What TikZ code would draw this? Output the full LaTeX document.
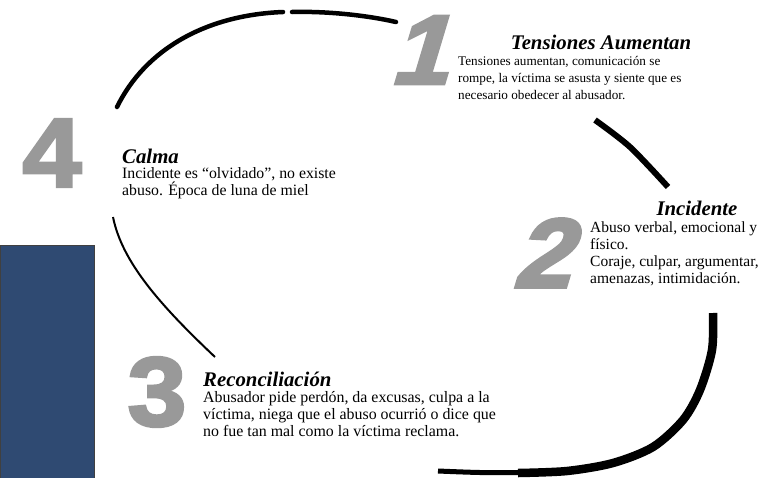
\documentclass[tikz,border=0pt]{standalone}
\usepackage{fontspec}
\setmainfont{Liberation Serif}
\newfontfamily\numfont{Liberation Sans Bold}[FakeBold=3,FakeStretch=1.08]
\newfontfamily\numslantfont{Liberation Sans Bold}[FakeBold=3.5,FakeStretch=1.05,FakeSlant=0.3]
\definecolor{numgray}{HTML}{999999}
\definecolor{panelblue}{HTML}{2F4A72}
\newcommand\bignumup{\numfont\fontsize{98}{98}\selectfont}
\newcommand\bignumit{\numslantfont\fontsize{98}{98}\selectfont}
\tikzset{
  stagetitle/.style={font=\fontsize{20.8}{24}\selectfont\bfseries\itshape, inner sep=0pt},
  stagetext/.style={font=\fontsize{#1}{17}\selectfont, align=left, inner sep=0pt,
    anchor=north west, execute at begin node=\strut},
  stagetext/.default=15.5,
  bignum/.style={text=numgray, inner sep=0pt, font=\bignumup},
  cyclearc/.style={line width=4.5pt, line cap=round},
}

\begin{document}
\begin{tikzpicture}[x=1pt,y=-1pt]
      \useasboundingbox (0,0) rectangle (784,477);
      \fill[panelblue,draw=black!75,line width=0.8pt] (0,245.5) rectangle (94.5,478);
      % arcs of the cycle
      \draw[cyclearc] (117,107) .. controls (145,50) and (205,15) .. (283,12);
      \draw[cyclearc] (292,12) .. controls (330,11) and (370,16) .. (396,22);
      \draw[line width=6pt] plot[smooth] coordinates {(595,120) (630,147) (668,187)};
      \draw[line width=8.5pt] plot[smooth] coordinates {(713,313) (712,350) (700,390) (683,420) (653,447) (613,463) (567,471) (518,473)};
      \draw[line width=5pt] plot[smooth] coordinates {(438,471) (480,472.5) (525,472.5)};
      \draw[line width=2pt] (113,217) .. controls (122,262) and (160,305) .. (215,357);
      % big numbers
      \node[bignum, font=\bignumit] (num1) at (418,50) {1};
      \node[bignum, font=\bignumit] (num2) at (541,253) {2};
      \node[bignum] (num3) at (157,392) {3};
      \node[bignum] (num4) at (52,153) {4};
      % stages
      \node[stagetitle, anchor=base] (title1) at (601,49) {Tensiones Aumentan};
      \node[stagetext=13.2] (text1) at (458,56) {Tensiones aumentan, comunicación se\\rompe, la víctima se asusta y siente que es\\necesario obedecer al abusador.};
      \node[stagetitle, anchor=base] (title2) at (697,215) {Incidente};
      \node[stagetext] (text2) at (590,222) {Abuso verbal, emocional y\\físico.\\Coraje, culpar, argumentar,\\amenazas, intimidación.};
      \node[stagetitle, anchor=base west] (title3) at (203,386) {Reconciliación};
      \node[stagetext=15.9] (text3) at (203,391.5) {Abusador pide perdón, da excusas, culpa a la\\víctima, niega que el abuso ocurrió o dice que\\no fue tan mal como la víctima reclama.};
      \node[stagetitle, anchor=base west] (title4) at (122,163) {Calma};
      \node[stagetext=15.8] (text4) at (122,167) {Incidente es “olvidado”, no existe\\abuso. Época de luna de miel};
    \end{tikzpicture}
\end{document}
